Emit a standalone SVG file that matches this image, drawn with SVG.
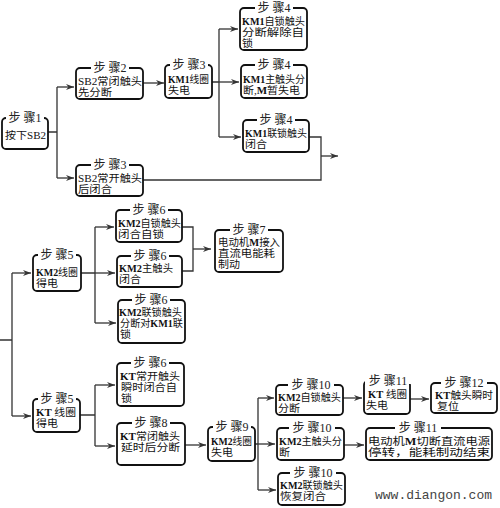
<svg xmlns="http://www.w3.org/2000/svg" width="500" height="508" viewBox="0 0 500 508">
<style>
.box{fill:#fff;stroke:#111;stroke-width:1.8}
.t{font-family:"Liberation Serif","Noto Sans CJK SC",serif;font-size:10px;fill:#111}
.b{font-weight:bold}
.h{font-family:"Liberation Serif","Noto Sans CJK SC",serif;font-size:12px;fill:#222;text-anchor:middle}
.hb{fill:#fff}
.c{fill:none;stroke:#333;stroke-width:1.3}
.a{marker-end:url(#ah)}
.wm{font-family:"Liberation Mono",monospace;font-size:13px;fill:#444}
</style>
<defs>
<marker id="ah" markerUnits="userSpaceOnUse" markerWidth="9" markerHeight="7" refX="8" refY="3.5" orient="auto"><path d="M0,0.5 L8,3.5 L0,6.5 L2.5,3.5 Z" fill="#333"/></marker>
</defs>
<rect width="500" height="508" fill="#fff"/>
<g id="connectors">
<path class="c" d="M48,132 H57 M57,87 V178"/>
<path class="c a" d="M57,87 H74"/>
<path class="c a" d="M57,178 H74"/>
<path class="c a" d="M143,83 H164"/>
<path class="c" d="M212,82 H219 M219,29 V137"/>
<path class="c a" d="M219,29 H238"/>
<path class="c a" d="M219,82 H239"/>
<path class="c a" d="M219,137 H241"/>
<path class="c" d="M309,137 H321 V180 H143"/>
<path class="c a" d="M321,156 H338"/>
<path class="c" d="M0,340 H12 M12,273 V416"/>
<path class="c a" d="M12,273 H31"/>
<path class="c a" d="M12,416 H31"/>
<path class="c" d="M81,273 H95 M95,227 V323"/>
<path class="c a" d="M95,227 H114"/>
<path class="c a" d="M95,273 H115"/>
<path class="c a" d="M95,323 H116"/>
<path class="c" d="M182,227 H193 V271 H182"/>
<path class="c a" d="M193,249 H211"/>
<path class="c" d="M80,415 H95 M95,385 V446"/>
<path class="c a" d="M95,385 H115"/>
<path class="c a" d="M95,446 H115"/>
<path class="c a" d="M185,445 H206"/>
<path class="c" d="M255,444 H258 M258,398 V490"/>
<path class="c a" d="M258,398 H274"/>
<path class="c a" d="M258,444 H275"/>
<path class="c a" d="M258,490 H276"/>
<path class="c a" d="M343,398 H362"/>
<path class="c a" d="M410,399 H429"/>
<path class="c a" d="M344,445 H364"/>
</g>
<g id="n1"><rect class="box" x="2" y="118" width="46" height="31" rx="4"/><rect class="hb" x="6" y="115" width="38" height="6"/><text class="h" x="25" y="122">步 骤1</text><text class="t" x="5" y="139" textLength="41" lengthAdjust="spacingAndGlyphs">按下SB2</text></g>
<g id="n2"><rect class="box" x="76" y="68" width="67" height="31" rx="4"/><rect class="hb" x="91" y="65" width="38" height="6"/><text class="h" x="110" y="72">步 骤2</text><text class="t" x="78" y="85" textLength="64" lengthAdjust="spacingAndGlyphs">SB2常闭触头</text><text class="t" x="78" y="96" textLength="34" lengthAdjust="spacingAndGlyphs">先分断</text></g>
<g id="n3"><rect class="box" x="76" y="165" width="67" height="31" rx="4"/><rect class="hb" x="91" y="162" width="38" height="6"/><text class="h" x="110" y="169">步 骤3</text><text class="t" x="78" y="182" textLength="64" lengthAdjust="spacingAndGlyphs">SB2常开触头</text><text class="t" x="78" y="193" textLength="34" lengthAdjust="spacingAndGlyphs">后闭合</text></g>
<g id="n4"><rect class="box" x="165" y="65" width="47" height="33" rx="4"/><rect class="hb" x="170" y="62" width="38" height="6"/><text class="h" x="189" y="69">步 骤3</text><text class="t" x="168" y="83" textLength="41" lengthAdjust="spacingAndGlyphs"><tspan class="b">KM1</tspan>线圈</text><text class="t" x="168" y="94" textLength="22" lengthAdjust="spacingAndGlyphs">失电</text></g>
<g id="n5"><rect class="box" x="240" y="8" width="67" height="42" rx="4"/><rect class="hb" x="255" y="5" width="38" height="6"/><text class="h" x="274" y="12">步 骤4</text><text class="t" x="242" y="25" textLength="63" lengthAdjust="spacingAndGlyphs"><tspan class="b">KM1</tspan>自锁触头</text><text class="t" x="242" y="36" textLength="62" lengthAdjust="spacingAndGlyphs">分断解除自</text><text class="t" x="242" y="47" textLength="11" lengthAdjust="spacingAndGlyphs">锁</text></g>
<g id="n6"><rect class="box" x="241" y="65" width="66" height="33" rx="4"/><rect class="hb" x="255" y="62" width="38" height="6"/><text class="h" x="274" y="69">步 骤4</text><text class="t" x="243" y="83" textLength="62" lengthAdjust="spacingAndGlyphs"><tspan class="b">KM1</tspan>主触头分</text><text class="t" x="243" y="94" textLength="57" lengthAdjust="spacingAndGlyphs">断,<tspan class="b">M</tspan>暂失电</text></g>
<g id="n7"><rect class="box" x="243" y="120" width="66" height="32" rx="4"/><rect class="hb" x="257" y="117" width="38" height="6"/><text class="h" x="276" y="124">步 骤4</text><text class="t" x="245" y="137" textLength="62" lengthAdjust="spacingAndGlyphs"><tspan class="b">KM1</tspan>联锁触头</text><text class="t" x="245" y="148" textLength="22" lengthAdjust="spacingAndGlyphs">闭合</text></g>
<g id="n8"><rect class="box" x="33" y="255" width="48" height="36" rx="4"/><rect class="hb" x="38" y="252" width="38" height="6"/><text class="h" x="57" y="259">步 骤5</text><text class="t" x="36" y="276" textLength="42" lengthAdjust="spacingAndGlyphs"><tspan class="b">KM2</tspan>线圈</text><text class="t" x="36" y="287" textLength="22" lengthAdjust="spacingAndGlyphs">得电</text></g>
<g id="n9"><rect class="box" x="116" y="210" width="66" height="32" rx="4"/><rect class="hb" x="130" y="207" width="38" height="6"/><text class="h" x="149" y="214">步 骤6</text><text class="t" x="118" y="227" textLength="63" lengthAdjust="spacingAndGlyphs"><tspan class="b">KM2</tspan>自锁触头</text><text class="t" x="118" y="238" textLength="46" lengthAdjust="spacingAndGlyphs">闭合自锁</text></g>
<g id="n10"><rect class="box" x="117" y="256" width="65" height="31" rx="4"/><rect class="hb" x="131" y="253" width="38" height="6"/><text class="h" x="150" y="260">步 骤6</text><text class="t" x="119" y="272" textLength="54" lengthAdjust="spacingAndGlyphs"><tspan class="b">KM2</tspan>主触头</text><text class="t" x="119" y="283" textLength="22" lengthAdjust="spacingAndGlyphs">闭合</text></g>
<g id="n11"><rect class="box" x="118" y="300" width="67" height="43" rx="4"/><rect class="hb" x="132" y="297" width="38" height="6"/><text class="h" x="151" y="304">步 骤6</text><text class="t" x="119" y="316" textLength="63" lengthAdjust="spacingAndGlyphs"><tspan class="b">KM2</tspan>联锁触头</text><text class="t" x="120" y="327" textLength="63" lengthAdjust="spacingAndGlyphs">分断对<tspan class="b">KM1</tspan>联</text><text class="t" x="120" y="338" textLength="11" lengthAdjust="spacingAndGlyphs">锁</text></g>
<g id="n12"><rect class="box" x="215" y="230" width="68" height="42" rx="4"/><rect class="hb" x="230" y="227" width="38" height="6"/><text class="h" x="249" y="234">步 骤7</text><text class="t" x="218" y="246" textLength="62" lengthAdjust="spacingAndGlyphs">电动机<tspan class="b">M</tspan>接入</text><text class="t" x="218" y="257" textLength="57" lengthAdjust="spacingAndGlyphs">直流电能耗</text><text class="t" x="218" y="268" textLength="22" lengthAdjust="spacingAndGlyphs">制动</text></g>
<g id="n13"><rect class="box" x="33" y="399" width="47" height="33" rx="4"/><rect class="hb" x="38" y="396" width="38" height="6"/><text class="h" x="57" y="403">步 骤5</text><text class="t" x="36" y="416" textLength="40" lengthAdjust="spacingAndGlyphs"><tspan class="b">KT</tspan> 线圈</text><text class="t" x="36" y="427" textLength="22" lengthAdjust="spacingAndGlyphs">得电</text></g>
<g id="n14"><rect class="box" x="117" y="363" width="67" height="43" rx="4"/><rect class="hb" x="131" y="360" width="38" height="6"/><text class="h" x="150" y="367">步 骤6</text><text class="t" x="120" y="380" textLength="60" lengthAdjust="spacingAndGlyphs"><tspan class="b">KT</tspan>常开触头</text><text class="t" x="121" y="391" textLength="56" lengthAdjust="spacingAndGlyphs">瞬时闭合自</text><text class="t" x="121" y="402" textLength="11" lengthAdjust="spacingAndGlyphs">锁</text></g>
<g id="n15"><rect class="box" x="117" y="423" width="68" height="42" rx="4"/><rect class="hb" x="132" y="420" width="38" height="6"/><text class="h" x="151" y="427">步 骤8</text><text class="t" x="120" y="440" textLength="60" lengthAdjust="spacingAndGlyphs"><tspan class="b">KT</tspan>常闭触头</text><text class="t" x="121" y="451" textLength="59" lengthAdjust="spacingAndGlyphs">延时后分断</text></g>
<g id="n16"><rect class="box" x="208" y="427" width="47" height="34" rx="4"/><rect class="hb" x="213" y="424" width="38" height="6"/><text class="h" x="232" y="431">步 骤9</text><text class="t" x="211" y="445" textLength="41" lengthAdjust="spacingAndGlyphs"><tspan class="b">KM2</tspan>线圈</text><text class="t" x="211" y="456" textLength="22" lengthAdjust="spacingAndGlyphs">失电</text></g>
<g id="n17"><rect class="box" x="276" y="385" width="67" height="30" rx="4"/><rect class="hb" x="288" y="382" width="46" height="6"/><text class="h" x="311" y="389">步 骤10</text><text class="t" x="278" y="401" textLength="63" lengthAdjust="spacingAndGlyphs"><tspan class="b">KM2</tspan>自锁触头</text><text class="t" x="278" y="412" textLength="22" lengthAdjust="spacingAndGlyphs">分断</text></g>
<g id="n18"><rect class="box" x="277" y="428" width="67" height="32" rx="4"/><rect class="hb" x="289" y="425" width="46" height="6"/><text class="h" x="312" y="432">步 骤10</text><text class="t" x="279" y="445" textLength="63" lengthAdjust="spacingAndGlyphs"><tspan class="b">KM2</tspan>主触头分</text><text class="t" x="279" y="456" textLength="11" lengthAdjust="spacingAndGlyphs">断</text></g>
<g id="n19"><rect class="box" x="278" y="473" width="67" height="32" rx="4"/><rect class="hb" x="290" y="470" width="46" height="6"/><text class="h" x="313" y="477">步 骤10</text><text class="t" x="280" y="489" textLength="63" lengthAdjust="spacingAndGlyphs"><tspan class="b">KM2</tspan>联锁触头</text><text class="t" x="280" y="500" textLength="46" lengthAdjust="spacingAndGlyphs">恢复闭合</text></g>
<g id="n20"><rect class="box" x="364" y="381" width="46" height="33" rx="4"/><rect class="hb" x="365" y="378" width="46" height="6"/><text class="h" x="388" y="385">步 骤11</text><text class="t" x="368" y="398" textLength="39" lengthAdjust="spacingAndGlyphs"><tspan class="b">KT</tspan> 线圈</text><text class="t" x="366" y="409" textLength="22" lengthAdjust="spacingAndGlyphs">失电</text></g>
<g id="n21"><rect class="box" x="431" y="383" width="66" height="30" rx="4"/><rect class="hb" x="441" y="380" width="46" height="6"/><text class="h" x="464" y="387">步 骤12</text><text class="t" x="435" y="399" textLength="58" lengthAdjust="spacingAndGlyphs"><tspan class="b">KT</tspan>触头瞬时</text><text class="t" x="437" y="410" textLength="22" lengthAdjust="spacingAndGlyphs">复位</text></g>
<g id="n22"><rect class="box" x="366" y="428" width="126" height="32" rx="4"/><rect class="hb" x="395" y="425" width="46" height="6"/><text class="h" x="418" y="432">步 骤11</text><text class="t" x="368" y="445" textLength="122" lengthAdjust="spacingAndGlyphs">电动机<tspan class="b">M</tspan>切断直流电源</text><text class="t" x="368" y="456" textLength="122" lengthAdjust="spacingAndGlyphs">停转，能耗制动结束</text></g>
<text class="wm" x="375" y="499">www.diangon.com</text>
</svg>
